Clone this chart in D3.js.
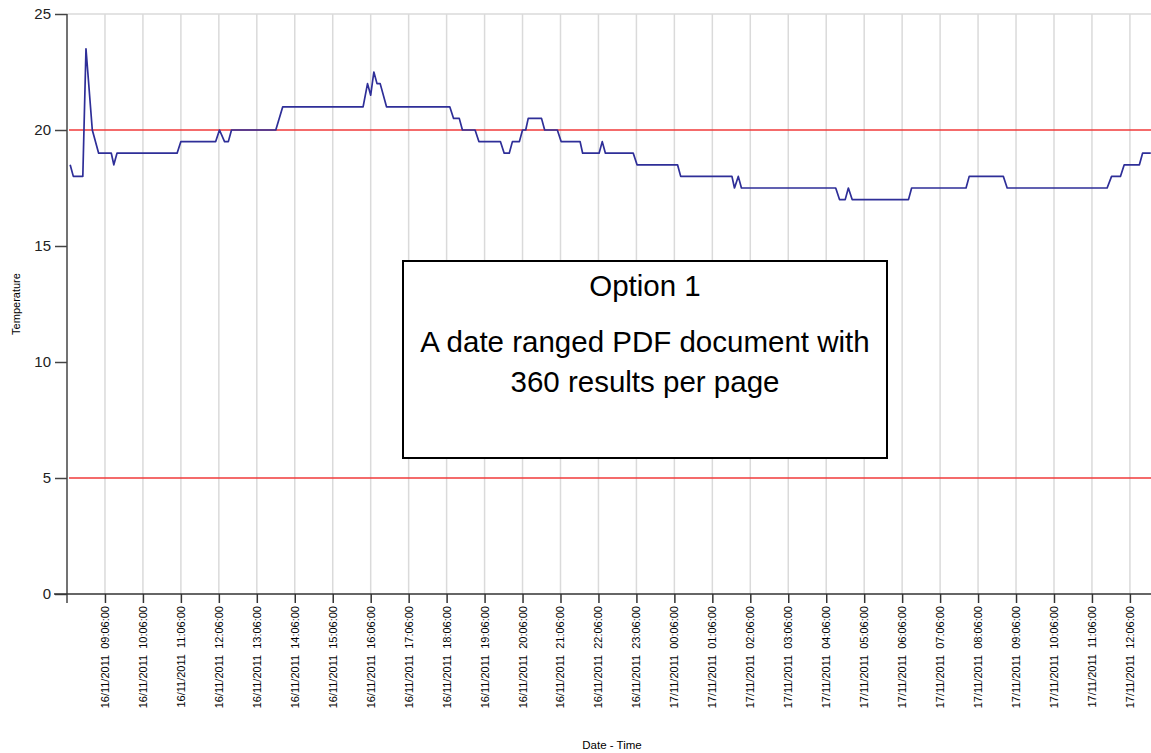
<!DOCTYPE html>
<html>
<head>
<meta charset="utf-8">
<script src="https://cdn.jsdelivr.net/npm/d3@7"></script>
<style>
  html, body { margin: 0; padding: 0; background: #fff; }
  svg { display: block; font-family: "Liberation Sans", Arial, sans-serif; }
</style>
</head>
<body>
<svg id="chart" width="1151" height="753"></svg>
<script>
// ---- data ----
const sampleTimes = [
  "16/11/2011 08:11","16/11/2011 08:16","16/11/2011 08:31","16/11/2011 08:36","16/11/2011 08:46",
  "16/11/2011 08:56","16/11/2011 09:16","16/11/2011 09:20","16/11/2011 09:25","16/11/2011 11:00",
  "16/11/2011 11:06","16/11/2011 12:01","16/11/2011 12:07","16/11/2011 12:15","16/11/2011 12:21",
  "16/11/2011 12:26","16/11/2011 13:36","16/11/2011 13:47","16/11/2011 15:54","16/11/2011 16:01",
  "16/11/2011 16:06","16/11/2011 16:11","16/11/2011 16:16","16/11/2011 16:21","16/11/2011 16:31",
  "16/11/2011 18:11","16/11/2011 18:17","16/11/2011 18:26","16/11/2011 18:31","16/11/2011 18:51",
  "16/11/2011 18:57","16/11/2011 19:31","16/11/2011 19:37","16/11/2011 19:45","16/11/2011 19:50",
  "16/11/2011 20:01","16/11/2011 20:06","16/11/2011 20:11","16/11/2011 20:15","16/11/2011 20:36",
  "16/11/2011 20:41","16/11/2011 21:01","16/11/2011 21:07","16/11/2011 21:37","16/11/2011 21:41",
  "16/11/2011 22:07","16/11/2011 22:12","16/11/2011 22:17","16/11/2011 23:01","16/11/2011 23:07",
  "17/11/2011 00:11","17/11/2011 00:16","17/11/2011 01:37","17/11/2011 01:41","17/11/2011 01:47",
  "17/11/2011 01:52","17/11/2011 04:21","17/11/2011 04:27","17/11/2011 04:36","17/11/2011 04:41",
  "17/11/2011 04:47","17/11/2011 06:16","17/11/2011 06:21","17/11/2011 07:47","17/11/2011 07:52",
  "17/11/2011 08:46","17/11/2011 08:52","17/11/2011 11:30","17/11/2011 11:37","17/11/2011 11:51",
  "17/11/2011 11:57","17/11/2011 12:21","17/11/2011 12:26","17/11/2011 12:39"
];
const temperatures = [
  18.5, 18, 18, 23.5, 20,
  19, 19, 18.5, 19, 19,
  19.5, 19.5, 20, 19.5, 19.5,
  20, 20, 21, 21, 22,
  21.5, 22.5, 22, 22, 21,
  21, 20.5, 20.5, 20, 20,
  19.5, 19.5, 19, 19, 19.5,
  19.5, 20, 20, 20.5, 20.5,
  20, 20, 19.5, 19.5, 19,
  19, 19.5, 19, 19, 18.5,
  18.5, 18, 18, 17.5, 18,
  17.5, 17.5, 17, 17, 17.5,
  17, 17, 17.5, 17.5, 18,
  18, 17.5, 17.5, 18, 18,
  18.5, 18.5, 19, 19
];
const xTickLabels = [
  "16/11/2011 09:06:00","16/11/2011 10:06:00","16/11/2011 11:06:00","16/11/2011 12:06:00",
  "16/11/2011 13:06:00","16/11/2011 14:06:00","16/11/2011 15:06:00","16/11/2011 16:06:00",
  "16/11/2011 17:06:00","16/11/2011 18:06:00","16/11/2011 19:06:00","16/11/2011 20:06:00",
  "16/11/2011 21:06:00","16/11/2011 22:06:00","16/11/2011 23:06:00","17/11/2011 00:06:00",
  "17/11/2011 01:06:00","17/11/2011 02:06:00","17/11/2011 03:06:00","17/11/2011 04:06:00",
  "17/11/2011 05:06:00","17/11/2011 06:06:00","17/11/2011 07:06:00","17/11/2011 08:06:00",
  "17/11/2011 09:06:00","17/11/2011 10:06:00","17/11/2011 11:06:00","17/11/2011 12:06:00"
];
const xDomain = ["16/11/2011 08:06:00", "17/11/2011 12:39:20"];
const yTicks = [0, 5, 10, 15, 20, 25];
const limitLines = [20, 5];
const yTitle = "Temperature";
const xTitle = "Date - Time";
const noteLines = ["Option 1", "A date ranged PDF document with", "360 results per page"];

// ---- drawing ----
(function () {
const parseShort = d3.timeParse("%d/%m/%Y %H:%M");
const parseLong = d3.timeParse("%d/%m/%Y %H:%M:%S");
const data = sampleTimes.map((t, i) => ({ t: parseShort(t), v: temperatures[i] }));

const pL = 67, pR = 1151, pT = 14, pB = 594;
const svg = d3.select("#chart");

const x = d3.scaleTime().domain(xDomain.map(parseLong)).range([pL, pR]);
const y = d3.scaleLinear().domain([0, 25]).range([pB, pT]);

// vertical gridlines
svg.append("g").selectAll("line").data(xTickLabels).join("line")
  .attr("x1", d => x(parseLong(d))).attr("x2", d => x(parseLong(d)))
  .attr("y1", y(25)).attr("y2", pB)
  .attr("stroke", "#dadada").attr("stroke-width", 1.5);

// top line
svg.append("line")
  .attr("x1", pL).attr("x2", pR).attr("y1", y(25)).attr("y2", y(25))
  .attr("stroke", "#dadada").attr("stroke-width", 1.5);

// limit lines
svg.append("g").selectAll("line").data(limitLines).join("line")
  .attr("x1", pL + 2).attr("x2", pR)
  .attr("y1", d => y(d)).attr("y2", d => y(d))
  .attr("stroke", "#f03a3a").attr("stroke-width", 1.5);

// data line
svg.append("path").datum(data)
  .attr("fill", "none").attr("stroke", "#2e2e98").attr("stroke-width", 1.7)
  .attr("stroke-linejoin", "round")
  .attr("d", d3.line().x(d => x(d.t)).y(d => y(d.v)));

// y axis
const yAxis = svg.append("g").attr("transform", `translate(${pL},0)`)
  .call(d3.axisLeft(y).tickValues(yTicks).tickSize(12).tickPadding(4).tickFormat(d3.format("d")));
yAxis.select(".domain").remove();
yAxis.selectAll(".tick line").attr("stroke", "#444").attr("stroke-width", 1.5);
yAxis.selectAll("text").attr("font-size", 15).attr("fill", "#222")
  .attr("font-family", "Liberation Sans, Arial, sans-serif");
svg.append("line").attr("x1", pL).attr("x2", pL).attr("y1", pT).attr("y2", pB + 9)
  .attr("stroke", "#444").attr("stroke-width", 1.5);

// x axis
const xAxis = svg.append("g").attr("transform", `translate(0,${pB})`)
  .call(d3.axisBottom(x).tickValues(xTickLabels.map(parseLong)).tickSize(9).tickFormat(""));
xAxis.select(".domain").remove();
xAxis.selectAll(".tick line").attr("stroke", "#333").attr("stroke-width", 1.5);
svg.append("line").attr("x1", 54).attr("x2", pR).attr("y1", pB).attr("y2", pB)
  .attr("stroke", "#333").attr("stroke-width", 1.5);

svg.append("g").selectAll("text").data(xTickLabels).join("text")
  .attr("transform", d => `translate(${x(parseLong(d)) + 4},606) rotate(-90)`)
  .attr("text-anchor", "end")
  .attr("font-size", 11).attr("fill", "#000")
  .text(d => d.replace(" ", "\u00a0\u00a0"));

// axis titles
svg.append("text").attr("transform", `translate(20,${(pT + pB) / 2}) rotate(-90)`)
  .attr("text-anchor", "middle").attr("font-size", 11).attr("fill", "#000").text(yTitle);
svg.append("text").attr("x", (pL + pR) / 2 + 3).attr("y", 749)
  .attr("text-anchor", "middle").attr("font-size", 11.5).attr("fill", "#000").text(xTitle);

// annotation box
const box = { x: 403, y: 261, w: 484, h: 197 };
svg.append("rect").attr("x", box.x).attr("y", box.y).attr("width", box.w).attr("height", box.h)
  .attr("fill", "#fff").attr("stroke", "#000").attr("stroke-width", 2);
const noteY = [296, 352, 392];
svg.append("g").selectAll("text").data(noteLines).join("text")
  .attr("x", box.x + box.w / 2).attr("y", (d, i) => noteY[i])
  .attr("text-anchor", "middle").attr("font-size", 29.5).attr("fill", "#000")
  .text(d => d);
})();
</script>
</body>
</html>
